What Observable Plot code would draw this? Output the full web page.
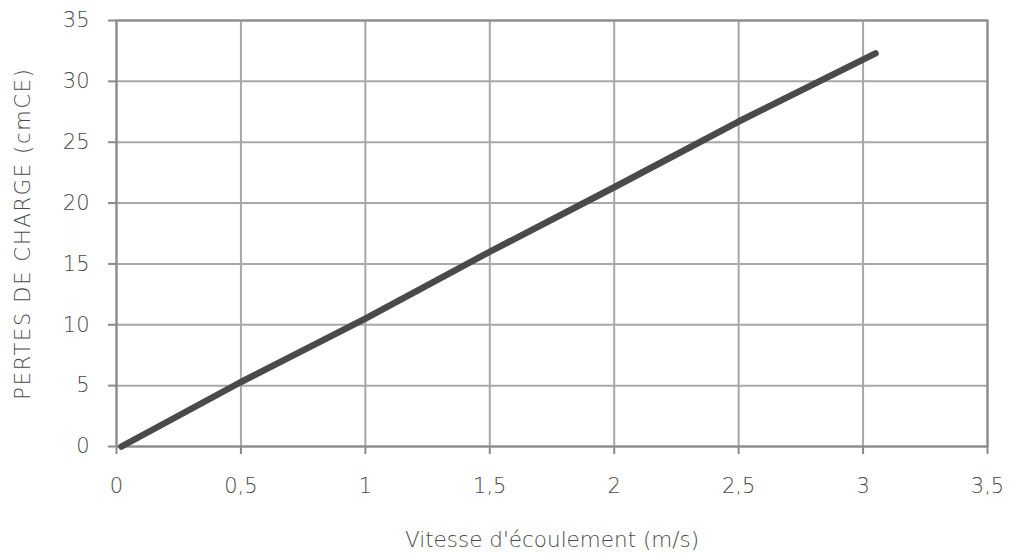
<!DOCTYPE html>
<html>
<head>
<meta charset="utf-8">
<script src="https://cdn.jsdelivr.net/npm/d3@7"></script>
<script src="https://cdn.jsdelivr.net/npm/@observablehq/plot@0.6"></script>
<style>
  html, body { margin: 0; padding: 0; background: #fff; }
  #chart { width: 1009px; height: 555px; }
</style>
</head>
<body>
<div id="chart"></div>
<script>
const vitesse = [0.02, 0.5, 1, 1.5, 2, 2.5, 3.05];
const pertes = [0, 5.3, 10.5, 16, 21.3, 26.7, 32.3];
const xTicks = [0, 0.5, 1, 1.5, 2, 2.5, 3, 3.5];
const yTicks = [0, 5, 10, 15, 20, 25, 30, 35];
const xLabel = "Vitesse d'écoulement (m/s)";
const yLabel = "PERTES DE CHARGE (cmCE)";

const data = vitesse.map((v, i) => ({v, p: pertes[i]}));
const fmt = d => String(d).replace(".", ",");
const font = "'DejaVu Sans', sans-serif";

const chart = Plot.plot({
  width: 1009,
  height: 555,
  marginLeft: 116,
  marginRight: 22,
  marginTop: 20,
  marginBottom: 109,
  style: {fontFamily: font, fontSize: "21px", fontWeight: 200, color: "#4a4a4a", background: "#fff"},
  x: {domain: [0, 3.5]},
  y: {domain: [0, 35]},
  marks: [
    Plot.gridX(xTicks, {stroke: "#a8a8a8", strokeOpacity: 1, strokeWidth: 2}),
    Plot.gridY(yTicks, {stroke: "#a8a8a8", strokeOpacity: 1, strokeWidth: 2}),
    Plot.frame({stroke: "#8a8a8a", strokeWidth: 2}),
    Plot.axisX(xTicks, {
      tickFormat: fmt, tickSize: 8, tickPadding: 24, stroke: "#8a8a8a", strokeWidth: 2,
      fill: "#4a4a4a", fontSize: 21,
      label: xLabel, labelAnchor: "center", labelArrow: "none", labelOffset: 100
    }),
    Plot.axisY(yTicks, {
      tickFormat: fmt, tickSize: 8, tickPadding: 19, stroke: "#8a8a8a", strokeWidth: 2,
      fill: "#4a4a4a", fontSize: 21,
      label: yLabel, labelAnchor: "center", labelArrow: "none", labelOffset: 101
    }),
    Plot.line(data, {x: "v", y: "p", stroke: "#4a4a4a", strokeWidth: 6.5, strokeLinecap: "round"})
  ]
});
document.getElementById("chart").appendChild(chart);
// widen the axis titles to match the reference's broad geometric typeface
chart.querySelectorAll("g[aria-label='x-axis label'] text").forEach(t => t.setAttribute("font-size", "21.5"));
chart.querySelectorAll("g[aria-label='y-axis label'] text").forEach(t => t.setAttribute("letter-spacing", "1.7"));
</script>
</body>
</html>
